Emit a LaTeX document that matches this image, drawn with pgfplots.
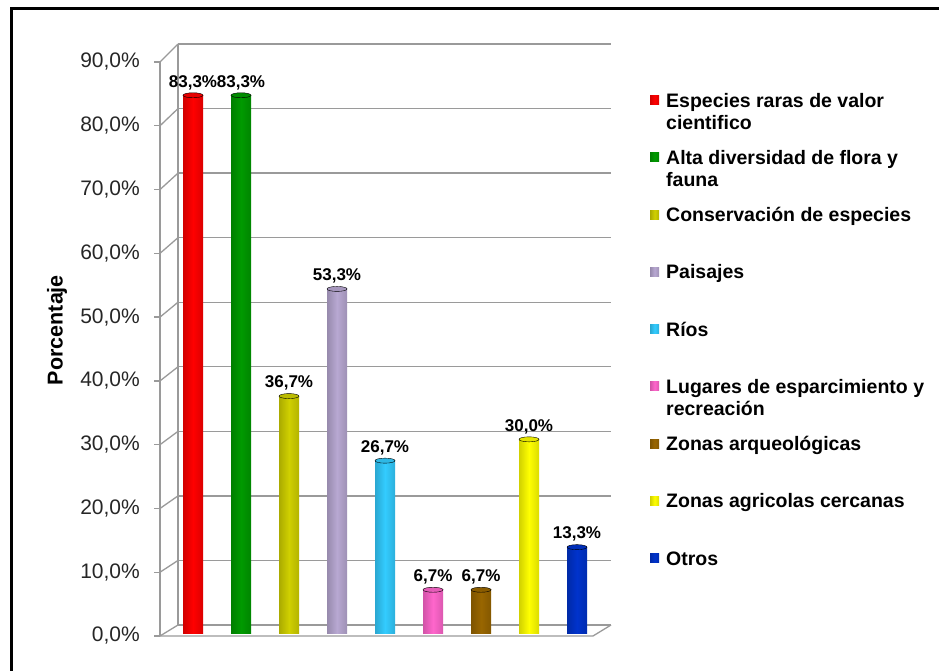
\documentclass[border=0pt]{standalone}
\usepackage{fontspec}
\setmainfont{Liberation Sans}
\usepackage{pgfplots}
\pgfplotsset{compat=1.18}
\definecolor{cRed}{HTML}{FF0000}
\definecolor{cGreen}{HTML}{009A00}
\definecolor{cOlive}{HTML}{D0D000}
\definecolor{cLav}{HTML}{B8A8D2}
\definecolor{cCyan}{HTML}{33CCFF}
\definecolor{cPink}{HTML}{FF66CC}
\definecolor{cBrown}{HTML}{996600}
\definecolor{cYellow}{HTML}{FFFF00}
\definecolor{cBlue}{HTML}{0033CC}
\definecolor{gridgray}{HTML}{9A9A9A}
\pgfplotsset{
  /pgf/number format/assume math mode=true,
  cyl/.style={draw=none, left color=#1!82!black, right color=#1!86!black, middle color=#1,
    mark=*, mark size=10pt, mark options={yscale=0.25, fill=#1!90!black, draw=none},
    legend image code/.code={\fill[#1] (0pt,2.5pt) rectangle (9pt,11.5pt);}},
}
\newcommand{\legtxt}[1]{\parbox[t]{270pt}{#1}}
\begin{document}
\begin{tikzpicture}
\useasboundingbox (0pt,0pt) rectangle (939pt,-671pt);
\draw[line width=3pt] (11pt,-690pt) -- (11pt,-9pt) -- (960pt,-9pt);
% front frame: ticks, labels, floor
\begin{axis}[at={(160pt,-636pt)}, anchor=south west, scale only axis,
  width=433pt, height=574pt, xmin=0.3125, xmax=9.333, ymin=0, ymax=90,
  clip=false, axis line style={draw=none}, xtick=\empty,
  ytick={0,10,...,90}, ytick pos=left, tick align=outside, major tick length=6pt,
  tick style={gridgray, line width=1.3pt},
  yticklabel={\pgfmathprintnumber[fixed,fixed zerofill,precision=1,use comma]{\tick}\%},
  yticklabel style={font=\fontsize{21}{25}\selectfont, text=black!85, anchor=east, inner sep=0pt, xshift=-14pt},
  ylabel={Porcentaje},
  every axis y label/.style={at={(axis description cs:-0.238,0.533)}, rotate=90, anchor=center,
    font=\bfseries\fontsize{21.5}{26}\selectfont},
]
\pgfplotsinvokeforeach{0,10,...,90}{
  \draw[gridgray, line width=1.3pt] (axis cs:0.3125,#1) -- (axis cs:0.6875,{1.7247+1.0122*#1});
}
\draw[gridgray, line width=1.3pt] (axis cs:0.3125,0) -- (axis cs:0.3125,90);
\draw[gridgray, line width=1.3pt] (axis cs:0.6875,1.7247) -- (axis cs:0.6875,92.82);
\draw[gridgray, line width=1.3pt] (axis cs:0.3125,0) -- (axis cs:9.333,0) -- (axis cs:9.708,1.7247);
\end{axis}
% data
\begin{axis}[at={(160pt,-633pt)}, anchor=south west, scale only axis,
  width=433pt, height=581pt, xmin=0.3125, xmax=9.333, ymin=0, ymax=90,
  clip=false, axis line style={draw=none}, xtick=\empty,
  ytick={0,10,...,90}, yticklabels={}, major tick length=0pt, tick style={draw=none},
  ymajorgrids, grid style={gridgray, line width=1.3pt, xshift=18pt, yshift=8pt},
  ybar, bar width=20pt, bar shift=0pt,
  nodes near coords={\pgfmathprintnumber[fixed,fixed zerofill,precision=1,use comma]{\pgfplotspointmeta}\%},
  nodes near coords style={font=\bfseries\fontsize{17}{20}\selectfont, text=black, anchor=south, yshift=2pt},
  legend style={draw=none, fill=none, at={(1.1316,0.9294)}, anchor=north west,
    inner sep=0pt, row sep=0pt, column sep=7pt,
    font=\bfseries\fontsize{19.5}{22}\selectfont,
    nodes={inner sep=0pt, anchor=base west, text height=14pt, text depth=43.25pt}},
  legend cell align=left,
]
\addplot[cyl=cRed] coordinates {(1,83.3)};
\addlegendentry{\legtxt{Especies raras de valor\\cientifico}}
\addplot[cyl=cGreen] coordinates {(2,83.3)};
\addlegendentry{\legtxt{Alta diversidad de flora y\\fauna}}
\addplot[cyl=cOlive] coordinates {(3,36.7)};
\addlegendentry{\legtxt{Conservación de especies}}
\addplot[cyl=cLav] coordinates {(4,53.3)};
\addlegendentry{\legtxt{Paisajes}}
\addplot[cyl=cCyan] coordinates {(5,26.7)};
\addlegendentry{\legtxt{Ríos}}
\addplot[cyl=cPink] coordinates {(6,6.7)};
\addlegendentry{\legtxt{Lugares de esparcimiento y\\recreación}}
\addplot[cyl=cBrown] coordinates {(7,6.7)};
\addlegendentry{\legtxt{Zonas arqueológicas}}
\addplot[cyl=cYellow] coordinates {(8,30.0)};
\addlegendentry{\legtxt{Zonas agricolas cercanas}}
\addplot[cyl=cBlue] coordinates {(9,13.3)};
\addlegendentry{\legtxt{Otros}}
\end{axis}
\end{tikzpicture}
\end{document}
